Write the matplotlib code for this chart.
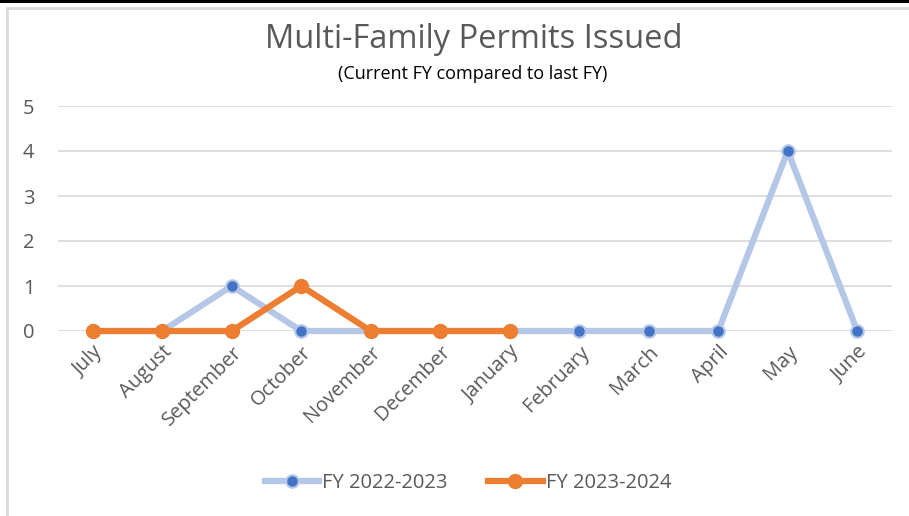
import matplotlib
matplotlib.use("Agg")
import matplotlib.pyplot as plt
from matplotlib.patches import Rectangle
from matplotlib.lines import Line2D

months = ["July", "August", "September", "October", "November", "December",
          "January", "February", "March", "April", "May", "June"]
fy2223 = [0, 0, 1, 0, 0, 0, 0, 0, 0, 0, 4, 0]
fy2324 = [0, 0, 0, 1, 0, 0, 0]
yticks = [0, 1, 2, 3, 4, 5]

plt.rcParams['font.family'] = ['Open Sans', 'DejaVu Sans']
W, H = 909, 516
fig = plt.figure(figsize=(W / 100, H / 100), dpi=100)

# frame and top bar
fig.patches.append(Rectangle((0, 1 - 3 / H), 1, 3 / H, transform=fig.transFigure,
                             facecolor="black", edgecolor="none", zorder=0))
fig.patches.append(Rectangle((6.5 / W, -0.1), 1.5, 1 - 7.5 / H + 0.1, transform=fig.transFigure,
                             facecolor="none", edgecolor="#D9D9D9", linewidth=2, zorder=0))

ax = fig.add_axes([58 / W, 1 - 331 / H, (892 - 58) / W, (331 - 106) / H])
x = list(range(len(months)))
ax.set_xlim(-0.5, len(months) - 0.5)
ax.set_ylim(0, 5)
for s in ax.spines.values():
    s.set_visible(False)
ax.set_yticks(yticks)
ax.set_yticklabels([str(v) for v in yticks])
ax.set_xticks(x)
ax.set_xticklabels(months, rotation=45, ha="right", rotation_mode="anchor")
ax.tick_params(length=0, labelsize=14.5, colors="#595959", pad=8)
ax.tick_params(axis="y", pad=17)
ax.grid(axis="y", color="#D9D9D9", linewidth=1.2)
ax.set_axisbelow(True)

ax.plot(x, fy2223, color="#B4C7E7", linewidth=4.5, marker="o", markersize=9,
        markerfacecolor="#4472C4", markeredgecolor="#B4C7E7", markeredgewidth=1.5,
        clip_on=False, zorder=3, solid_joinstyle="round")
ax.plot(x[:len(fy2324)], fy2324, color="#ED7D31", linewidth=4.5, marker="o", markersize=10,
        markerfacecolor="#ED7D31", markeredgecolor="#ED7D31",
        clip_on=False, zorder=4, solid_joinstyle="round")

fig.text(474 / W, 1 - 40 / H, "Multi-Family Permits Issued", ha="center", va="center",
         fontsize=23.5, color="#595959")
fig.text(473 / W, 1 - 74 / H, "(Current FY compared to last FY)", ha="center", va="center",
         fontsize=13, color="black")

h1 = Line2D([], [], color="#B4C7E7", linewidth=4.5, marker="o", markersize=9,
            markerfacecolor="#4472C4", markeredgecolor="#B4C7E7", markeredgewidth=1.5)
h2 = Line2D([], [], color="#ED7D31", linewidth=4.5, marker="o", markersize=10,
            markerfacecolor="#ED7D31", markeredgecolor="#ED7D31")
fig.legend([h1, h2], ["FY 2022-2023", "FY 2023-2024"], loc="center",
           bbox_to_anchor=(468 / W, 1 - 483 / H), ncol=2, frameon=False,
           fontsize=14.5, labelcolor="#595959", handlelength=2.7, handletextpad=0.15,
           columnspacing=2.0)

fig.savefig("out.png", dpi=100, facecolor="white")
